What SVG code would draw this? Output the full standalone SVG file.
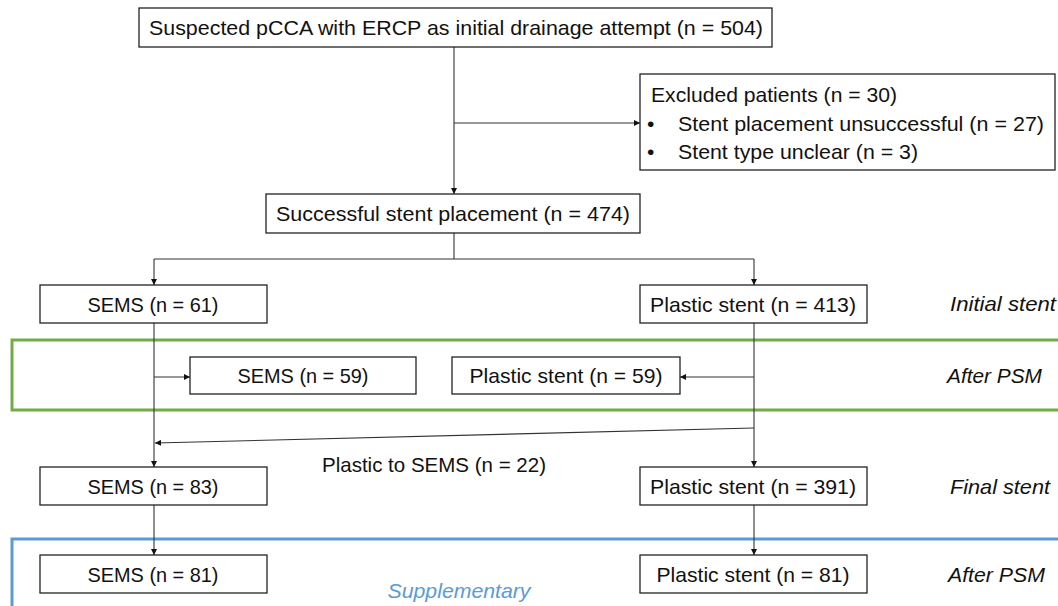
<svg xmlns="http://www.w3.org/2000/svg" width="1058" height="606" viewBox="0 0 1058 606">
<defs>
<marker id="ah" viewBox="0 0 10 10" refX="10" refY="5" markerWidth="7" markerHeight="6" markerUnits="userSpaceOnUse" orient="auto">
<path d="M0,0 L10,5 L0,10 z" fill="#111"/>
</marker>
<style>
.box{fill:#fff;stroke:#222;stroke-width:1.3}
.t{font-family:"Liberation Sans",Arial,sans-serif;font-size:21px;fill:#111}
.c{text-anchor:middle}
.i{font-style:italic}
.ln{fill:none;stroke:#333;stroke-width:1.1}
.arr{fill:none;stroke:#333;stroke-width:1.1;marker-end:url(#ah)}
</style>
</defs>
<rect width="1058" height="606" fill="#fff"/>
<g id="regions">
<rect x="12" y="340" width="1060" height="70" fill="none" stroke="#70ad47" stroke-width="3"/>
<rect x="12" y="539" width="1060" height="80" fill="none" stroke="#5b9bd5" stroke-width="3"/>
<text class="t c i" x="459" y="598" textLength="143" lengthAdjust="spacingAndGlyphs" style="fill:#5b9bd5">Supplementary</text>
</g>
<g id="connectors">
<line class="ln" x1="454" y1="47" x2="454" y2="123"/>
<path class="arr" d="M454,123 L454,194"/>
<path class="arr" d="M454,123 L640,123"/>
<line class="ln" x1="454" y1="233" x2="454" y2="259"/>
<line class="ln" x1="154" y1="259" x2="754" y2="259"/>
<path class="arr" d="M154,259 L154,285"/>
<path class="arr" d="M754,259 L754,285"/>
<path class="arr" d="M154,323 L154,467"/>
<path class="arr" d="M154,377 L190,377"/>
<path class="arr" d="M754,323 L754,467"/>
<path class="arr" d="M754,377 L680,377"/>
<path class="arr" d="M754,428 L155,443"/>
<path class="arr" d="M154,505 L154,555"/>
<path class="arr" d="M754,505 L754,555"/>
</g>
<g id="n_top"><rect class="box" x="139" y="8" width="633" height="39"/><text class="t c" x="456" y="35" textLength="614" lengthAdjust="spacingAndGlyphs">Suspected pCCA with ERCP as initial drainage attempt (n = 504)</text></g>
<g id="n_excluded"><rect class="box" x="640" y="74" width="415" height="96"/>
<text class="t" x="651" y="102" textLength="246" lengthAdjust="spacingAndGlyphs">Excluded patients (n = 30)</text>
<text class="t" x="647" y="131">•</text><text class="t" x="678" y="131" textLength="366" lengthAdjust="spacingAndGlyphs">Stent placement unsuccessful (n = 27)</text>
<text class="t" x="647" y="159">•</text><text class="t" x="678" y="159" textLength="240" lengthAdjust="spacingAndGlyphs">Stent type unclear (n = 3)</text></g>
<g id="n_success"><rect class="box" x="266" y="194" width="374" height="39"/><text class="t c" x="453" y="221" textLength="354" lengthAdjust="spacingAndGlyphs">Successful stent placement (n = 474)</text></g>
<g id="n_sems61"><rect class="box" x="40" y="285" width="227" height="38"/><text class="t c" x="153" y="312" textLength="131" lengthAdjust="spacingAndGlyphs">SEMS (n = 61)</text></g>
<g id="n_plastic413"><rect class="box" x="640" y="285" width="227" height="38"/><text class="t c" x="753" y="312" textLength="206" lengthAdjust="spacingAndGlyphs">Plastic stent (n = 413)</text></g>
<g id="l_initial"><text class="t i" x="950" y="311" textLength="106" lengthAdjust="spacingAndGlyphs">Initial stent</text></g>
<g id="n_sems59"><rect class="box" x="190" y="357" width="226" height="37"/><text class="t c" x="303" y="383" textLength="131" lengthAdjust="spacingAndGlyphs">SEMS (n = 59)</text></g>
<g id="n_plastic59"><rect class="box" x="452" y="357" width="228" height="37"/><text class="t c" x="566" y="383" textLength="193" lengthAdjust="spacingAndGlyphs">Plastic stent (n = 59)</text></g>
<g id="l_psm1"><text class="t i" x="947" y="383" textLength="95" lengthAdjust="spacingAndGlyphs">After PSM</text></g>
<g id="l_p2s"><text class="t" x="322" y="472" textLength="224" lengthAdjust="spacingAndGlyphs">Plastic to SEMS (n = 22)</text></g>
<g id="n_sems83"><rect class="box" x="40" y="467" width="227" height="38"/><text class="t c" x="153" y="494" textLength="131" lengthAdjust="spacingAndGlyphs">SEMS (n = 83)</text></g>
<g id="n_plastic391"><rect class="box" x="640" y="467" width="227" height="38"/><text class="t c" x="753" y="494" textLength="206" lengthAdjust="spacingAndGlyphs">Plastic stent (n = 391)</text></g>
<g id="l_final"><text class="t i" x="950" y="494" textLength="100" lengthAdjust="spacingAndGlyphs">Final stent</text></g>
<g id="n_sems81"><rect class="box" x="40" y="555" width="227" height="38"/><text class="t c" x="153" y="582" textLength="131" lengthAdjust="spacingAndGlyphs">SEMS (n = 81)</text></g>
<g id="n_plastic81"><rect class="box" x="640" y="555" width="227" height="38"/><text class="t c" x="753" y="582" textLength="193" lengthAdjust="spacingAndGlyphs">Plastic stent (n = 81)</text></g>
<g id="l_psm2"><text class="t i" x="948" y="582" textLength="97" lengthAdjust="spacingAndGlyphs">After PSM</text></g>
</svg>
